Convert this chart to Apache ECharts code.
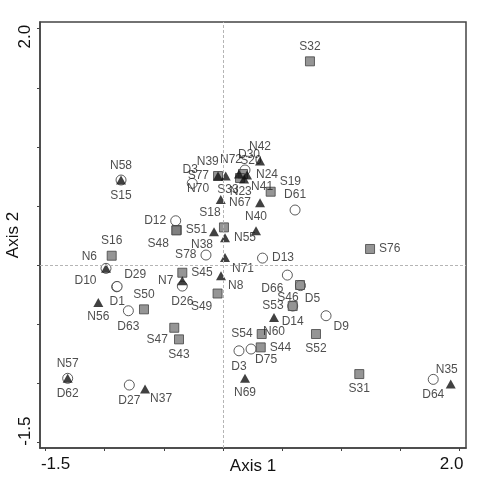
<!DOCTYPE html>
<html><head><meta charset="utf-8">
<script src="https://cdn.jsdelivr.net/npm/echarts@6/dist/echarts.min.js"></script>
<style>html,body{margin:0;padding:0;background:#fff}#c{width:478px;height:499px}</style>
</head><body><div id="c"></div>
<script>
// ---- data ----
const sqNames = ['S32','S77','S20','S33','S19','S18','S51','S48','S16','S76','S45','S49','S50','S46','S53','S47','S43','S54','S52','S44','S31'];
const sqX = [0.735,-0.042,0.169,0.144,0.403,0.008,-0.391,-0.395,-0.941,1.243,-0.344,-0.046,-0.668,0.651,0.589,-0.412,-0.372,0.327,0.786,0.319,1.152];
const sqY = [1.724,0.753,0.770,0.736,0.620,0.318,0.296,0.292,0.078,0.135,-0.066,-0.242,-0.376,-0.170,-0.348,-0.532,-0.630,-0.585,-0.585,-0.698,-0.924];

const triNames = ['N42','N39','N70','N72','N24','N41','N23','N67','N40','N38','N55','N71','N8','N7','N6','N56','N60','N58','N57','N37','N69','N35'];
const triX = [0.313,0.023,-0.042,0.135,0.203,0.178,-0.019,0.313,0.279,-0.076,0.017,0.017,-0.017,-0.344,-0.989,-1.054,0.431,-0.862,-1.313,-0.659,0.186,1.925];
const triY = [0.880,0.753,0.753,0.770,0.761,0.727,0.555,0.527,0.290,0.281,0.230,0.064,-0.091,-0.134,-0.029,-0.317,-0.444,0.719,-0.960,-1.051,-0.960,-1.008];

const cirNames = ['D3','D30','D61','D12','S78','D13','D10','D29','D1','D26','D63','D66','D5','D14','D9','D75','D3','D62','D27','D64','S15'];
const cirX = [-0.260,0.186,0.609,-0.400,-0.144,0.334,-0.989,-0.899,-0.895,-0.344,-0.800,0.544,0.655,0.589,0.871,0.237,0.135,-1.313,-0.792,1.777,-0.862];
const cirY = [0.691,0.804,0.465,0.374,0.084,0.058,-0.029,-0.185,-0.182,-0.179,-0.388,-0.086,-0.175,-0.348,-0.430,-0.712,-0.727,-0.960,-1.017,-0.969,0.719];

const tickValues = [-1.5,-1.0,-0.5,0,0.5,1.0,1.5,2.0];
const labelValues = [-1.5,2.0];

// ---- label placement (style) ----
const sqLab = [['top',0,0],['left',0,0],['top',8,2],['bottom',-12,-3],['right',0,-10],['top',-14,0],['right',0,0],['bottom',-18,-2],['top',0,0],['right',0,0],['right',0,0],['bottom',-16,-2],['top',0,0],['bottom',-12,-2],['left',0,0],['bottom',-17,-3],['bottom',0,0],['left',0,0],['bottom',0,0],['right',0,0],['bottom',0,0]];
const triLab = [['top',0,0],['top',-18,0],['bottom',-20,-2],['top',-8,0],['right',0,0],['right',-2,8],['right',0,-8],['left',0,0],['top',0,0],['bottom',-12,-2],['right',0,0],['right',-2,11],['right',-2,10],['left',0,0],['left',0,-12],['bottom',0,0],['bottom',0,0],['top',0,0],['top',0,0],['right',-4,10],['bottom',0,0],['top',-4,0]];
const cirLab = [['top',-2,2],['top',4,0],['top',0,0],['left',0,0],['left',0,0],['right',0,0],['left',0,12],['right',-2,-12],['bottom',0,0],['bottom',0,0],['bottom',0,0],['bottom',-15,-2],['bottom',12,-2],['bottom',0,0],['right',-2,11],['bottom',15,-5],['bottom',0,0],['bottom',0,0],['bottom',0,0],['bottom',0,0],['bottom',0,0]];

const FONT = "'Liberation Sans', Arial, sans-serif";
function build(names, xs, ys, lab) {
  return names.map((n, i) => ({
    name: n, value: [xs[i], ys[i]],
    label: { position: lab[i][0], offset: [lab[i][1], lab[i][2]] }
  }));
}
const baseLabel = { show: true, formatter: p => p.name, color: '#222', fontSize: 12, fontFamily: FONT, distance: 4 };
const tickText = { fontSize: 17, color: '#111', fontFamily: FONT };

const chart = echarts.init(document.getElementById('c'), null, { renderer: 'canvas' });
const axisCommon = {
  type: 'value',
  axisLine: { show: true, onZero: false, lineStyle: { color: '#444', width: 1.5 } },
  axisTick: { show: true, length: 3, customValues: tickValues, lineStyle: { color: '#444', width: 1 } },
  splitLine: { show: false },
  nameLocation: 'middle',
  nameMoveOverlap: false,
  nameTextStyle: { fontSize: 17, color: '#111', fontFamily: FONT }
};
chart.setOption({
  animation: false,
  backgroundColor: '#fff',
  grid: { left: 40, top: 22, right: 12, bottom: 51, show: true, borderColor: '#444', borderWidth: 1.5, containLabel: false, outerBoundsMode: 'none' },
  xAxis: Object.assign({}, axisCommon, {
    min: -1.547, max: 2.054, name: 'Axis 1', nameGap: 10,
    axisLabel: {
      customValues: labelValues, margin: 8,
      formatter: v => (v < 0 ? '{lo|' : '{hi|') + v.toFixed(1) + '}',
      rich: {
        lo: Object.assign({ padding: [0, 0, 0, 20] }, tickText),
        hi: Object.assign({ padding: [0, 16, 0, 0] }, tickText)
      }
    }
  }),
  yAxis: Object.assign({}, axisCommon, {
    min: -1.55, max: 2.057, name: 'Axis 2', nameGap: 18, nameRotate: 90,
    axisLabel: {
      customValues: labelValues, margin: 6, rotate: 90,
      formatter: v => (v < 0 ? '{lo|' : '{hi|') + v.toFixed(1) + '}',
      rich: {
        lo: Object.assign({ padding: [0, 0, 0, 22] }, tickText),
        hi: Object.assign({ padding: [0, 16, 0, 0] }, tickText)
      }
    }
  }),
  series: [
    {
      type: 'scatter', data: [], silent: true, z: 1,
      markLine: {
        silent: true, symbol: 'none', label: { show: false },
        lineStyle: { color: '#b5b5b5', type: [3, 2], width: 1 },
        data: [{ xAxis: 0 }, { yAxis: 0 }]
      }
    },
    {
      type: 'scatter', name: 'D', z: 2, symbol: 'circle', symbolSize: 10,
      itemStyle: { color: '#fff', borderColor: '#333', borderWidth: 1 },
      label: baseLabel,
      data: build(cirNames, cirX, cirY, cirLab)
    },
    {
      type: 'scatter', name: 'S', z: 3, symbol: 'rect', symbolSize: 9,
      itemStyle: { color: '#7a7a7a', borderColor: '#444', borderWidth: 1 },
      label: baseLabel,
      data: build(sqNames, sqX, sqY, sqLab)
    },
    {
      type: 'scatter', name: 'N', z: 4, symbol: 'triangle', symbolSize: [10, 9],
      itemStyle: { color: '#111' },
      label: baseLabel,
      data: build(triNames, triX, triY, triLab)
    }
  ]
});
</script>
</body></html>
